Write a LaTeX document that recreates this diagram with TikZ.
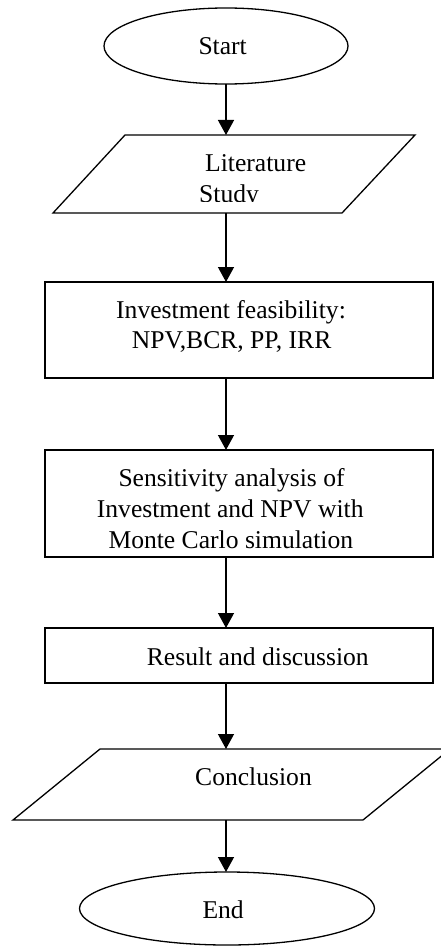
\documentclass[tikz,border=0pt]{standalone}
\usepackage{fontspec}
\setmainfont{Liberation Serif}
\usetikzlibrary{shapes.geometric,arrows.meta}
\begin{document}
\begin{tikzpicture}[x=1pt,y=-1pt,
  shp/.style={draw=black, line width=1.3pt, inner sep=0pt, outer sep=0pt},
  oval/.style={shp, ellipse},
  boxx/.style={shp, rectangle},
  ghost/.style={rectangle, inner sep=0pt, outer sep=0pt},
  paraline/.style={draw=black, line width=1.3pt, line join=miter},
  txt/.style={anchor=base west, inner sep=0pt, font=\fontsize{25.6}{30}\selectfont},
  arr/.style={-{Triangle[width=16pt,length=15pt]}, line width=1.3pt}
]
\useasboundingbox (0,0) rectangle (441,947);
\coordinate (axis) at (226,0);

\node[oval, minimum width=244pt, minimum height=76pt] (start) at (226,46) {};
\node[ghost, minimum width=290pt, minimum height=78pt] (lit) at (234,174) {};
\draw[paraline] (125,135) -- (415,135) -- (342,213) -- (53,213) -- cycle;
\node[boxx, minimum width=388pt, minimum height=96pt] (feas) at (239,330) {};
\node[boxx, minimum width=388pt, minimum height=107pt] (sens) at (239,503.5) {};
\node[boxx, minimum width=388pt, minimum height=55pt] (res) at (239,655.5) {};
\node[ghost, minimum width=350pt, minimum height=71pt] (concl) at (231.5,784.5) {};
\draw[paraline] (100,749) -- (450,749) -- (363,820) -- (13,820) -- cycle;
\node[oval, minimum width=295pt, minimum height=73pt] (fin) at (227,908.5) {};

\node[txt] (tstart) at (198.3,54.3) {Start};
\node[txt] (tlit1) at (205,171.7) {Literature};
\begin{scope}
  \clip (60,140) rectangle (400,201.7);
  \node[txt] (tlit2) at (199,202.5) {Study};
\end{scope}
\node[txt] (tfeas1) at (116,318.3) {Investment feasibility:};
\node[txt] (tfeas2) at (131.7,348.3) {NPV,BCR, PP, IRR};
\node[txt] (tsens1) at (118.3,486.7) {Sensitivity analysis of};
\node[txt] (tsens2) at (96.7,517.3) {Investment and NPV with};
\begin{scope}
  \clip (50,520) rectangle (430,548);
  \node[txt] (tsens3) at (108.3,548.5) {Monte Carlo simulation};
\end{scope}
\node[txt] (tres) at (146.7,665) {Result and discussion};
\node[txt] (tconcl) at (195,785) {Conclusion};
\node[txt] (tend) at (202.3,918.3) {End};

\draw[arr] (start.south -| axis) -- (lit.north -| axis);
\draw[arr] (lit.south -| axis) -- (feas.north -| axis);
\draw[arr] (feas.south -| axis) -- (sens.north -| axis);
\draw[arr] (sens.south -| axis) -- (res.north -| axis);
\draw[arr] (res.south -| axis) -- (concl.north -| axis);
\draw[arr] (concl.south -| axis) -- (fin.north -| axis);
\end{tikzpicture}
\end{document}
